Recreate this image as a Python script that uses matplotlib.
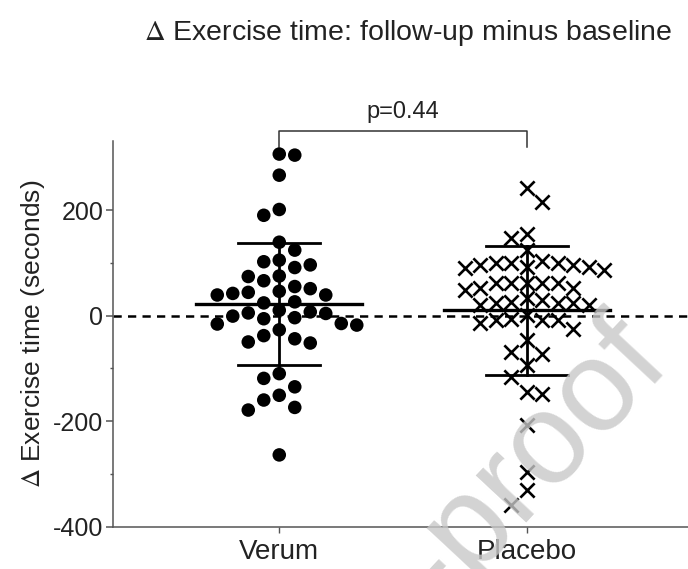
import matplotlib
matplotlib.use('Agg')
import matplotlib.pyplot as plt
import numpy as np

plt.rcParams['font.family'] = ['Liberation Sans', 'DejaVu Sans']
plt.rcParams['mathtext.fontset'] = 'stix'
plt.rcParams['axes.unicode_minus'] = False

# values (seconds)
groups = ['Verum', 'Placebo']
verum = [306, 304, 266, 201, 190, 139, 124,
         105, 96, 102, 91, 75, 74, 66,
         46, 39, 51, 44, 39, 55, 42, 24, 26,
         10, -6, -15, -16, -1, 4, 7, 5, -4,
         -38, -50, -52, -18, -44, -27,
         -110, -119, -135, -151, -160, -174, -179, -264]
placebo = [241, 216, 155, 147, 124,
           86, 92, 99, 104, 96, 100, 96, 99, 92, 90,
           61, 52, 61, 61, 48, 52, 62, 61,
           26, 33, 20, 23, 20, 23, 23, 29,
           1, -8, -6, -9, -8, -14, -26,
           -46, -69, -72, -94, -116, -148, -144, -208, -296, -331, -359]
means = [22, 10]
sds = [116, 122]
p_label = 'p=0.44'

fig = plt.figure(figsize=(6.88, 5.69), dpi=100)
ax = fig.add_axes([113 / 688, 42.3 / 569, 1 - 113 / 688, 385.3 / 569])
ax.set_xlim(0.328, 2.652)
ax.set_ylim(-400, 330)


def swarm(center, values, step=15.5, row_h=15.0):
    """Spread points sideways in half-step columns (GraphPad style), working in pixels."""
    tr = ax.transData
    cx = tr.transform((center, 0))[0]
    ys = [tr.transform((center, v))[1] for v in values]
    order = np.argsort(values)[::-1]
    placed = []
    xs = np.zeros(len(values))
    flip = 1
    for i in order:
        chosen = None
        for k in range(0, 40):
            for sgn in ([1] if k == 0 else [flip, -flip]):
                x = cx + sgn * k * 0.5 * step
                if all(abs(x - px) >= step * 0.97 or abs(ys[i] - py) >= row_h
                       for px, py in placed):
                    chosen = x
                    break
            if chosen is not None:
                break
        if chosen != cx:
            flip = -flip
        placed.append((chosen, ys[i]))
        xs[i] = chosen
    inv = tr.inverted()
    return [inv.transform((x, y))[0] for x, y in zip(xs, ys)]


positions = [1, 2]
ax.axhline(0, color='black', lw=1.8, dashes=(3.3, 2.5), zorder=1)

vx = swarm(1, verum)
px_ = swarm(2, placebo)
ax.scatter(vx, verum, s=95, color='black', edgecolors='none', zorder=3)
ax.scatter(px_, placebo, s=105, marker='x', color='black', linewidths=1.9, zorder=3)

# mean and SD bars
for pos, m, sd in zip(positions, means, sds):
    ax.plot([pos - 0.336, pos + 0.336], [m, m], color='black', lw=2.4, zorder=4)
    ax.plot([pos, pos], [m - sd, m + sd], color='black', lw=2.0, zorder=4)
    for y in (m - sd, m + sd):
        ax.plot([pos - 0.166, pos + 0.166], [y, y], color='black', lw=2.0, zorder=4)

# significance bracket
ax.plot([1, 1, 2, 2], [319, 350, 350, 319], color='#333333', lw=1.1, clip_on=False)
ax.text(1.5, 386, p_label, ha='center', va='center', fontsize=17, color='#222222')

for side in ['top', 'right']:
    ax.spines[side].set_visible(False)
for side in ['left', 'bottom']:
    ax.spines[side].set_color('#555555')
    ax.spines[side].set_linewidth(1.1)

ax.set_yticks([-400, -200, 0, 200])
ax.set_yticks([-300, -100, 100], minor=True)
ax.set_xticks(positions)
ax.set_xticklabels(groups)
ax.tick_params(axis='y', which='major', length=5, width=1.1, color='#555555',
               labelsize=18, labelcolor='#222222', pad=2)
ax.tick_params(axis='y', which='minor', length=2.5, width=1.0, color='#555555')
ax.tick_params(axis='x', length=4, width=1.0, color='#555555',
               labelsize=20, labelcolor='#222222', pad=5)

fig.text(33 / 688, 1 - 334 / 569, r'$\Delta$ Exercise time (seconds)', rotation=90,
         ha='center', va='center', fontsize=19, color='#222222')
fig.text(408 / 688, 1 - 33 / 569, r'$\Delta$ Exercise time: follow-up minus baseline',
         ha='center', va='center', fontsize=20.5, color='#222222')

# watermark of the source document (only its tail falls inside the figure)
fig.text(0.978, 0.357, 'Journal Pre-proof', rotation=47, rotation_mode='anchor',
         ha='right', va='baseline', fontsize=93, color='#c8c8c8', alpha=0.8, zorder=10)

fig.savefig('out.png', dpi=100)
